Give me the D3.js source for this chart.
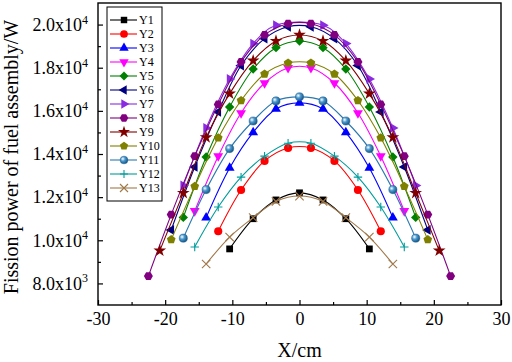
<!DOCTYPE html>
<html>
<head>
<meta charset="utf-8">
<script src="https://cdn.jsdelivr.net/npm/d3@7"></script>
<style>
  body { margin: 0; background: #fff; }
  svg { display: block; font-family: "Liberation Serif", "Times New Roman", serif; }
</style>
</head>
<body>
<div id="chart"></div>
<script>
// values (symmetric about x = 0)
var y1X = [-10.4, -6.9, -3.5, 0, 3.5, 6.9, 10.4];
var y1V = [9600, 11000, 11870, 12200, 11870, 11000, 9600];
var y2X = [-12.1, -8.7, -5.2, -1.7, 1.7, 5.2, 8.7, 12.1];
var y2V = [10420, 12330, 13680, 14280, 14280, 13680, 12330, 10420];
var y3X = [-13.9, -10.4, -6.9, -3.5, 0, 3.5, 6.9, 10.4, 13.9];
var y3V = [11050, 13350, 15000, 16090, 16370, 16090, 15000, 13350, 11050];
var y4X = [-15.6, -12.1, -8.7, -5.2, -1.7, 1.7, 5.2, 8.7, 12.1, 15.6];
var y4V = [11360, 13900, 15900, 17290, 17990, 17990, 17290, 15900, 13900, 11360];
var y5X = [-17.3, -13.9, -10.4, -6.9, -3.5, 0, 3.5, 6.9, 10.4, 13.9, 17.3];
var y5V = [11060, 13860, 16180, 17940, 18930, 19240, 18930, 17940, 16180, 13860, 11060];
var y6X = [-19.1, -15.6, -12.1, -8.7, -5.2, -1.7, 1.7, 5.2, 8.7, 12.1, 15.6, 19.1];
var y6V = [10480, 13400, 15950, 18100, 19350, 19900, 19900, 19350, 18100, 15950, 13400, 10480];
var y7X = [-17.3, -13.9, -10.4, -6.9, -3.5, 3.5, 6.9, 10.4, 13.9, 17.3];
var y7V = [12540, 15210, 17480, 19120, 19970, 19970, 19120, 17480, 15210, 12540];
var y8X = [-22.5, -19.1, -15.6, -12.1, -8.7, -5.2, -1.7, 1.7, 5.2, 8.7, 12.1, 15.6, 19.1, 22.5];
var y8V = [8340, 11190, 13900, 16300, 18270, 19520, 20040, 20040, 19520, 18270, 16300, 13900, 11190, 8340];
var y9X = [-20.8, -17.3, -13.9, -10.4, -6.9, -3.5, 0, 3.5, 6.9, 10.4, 13.9, 17.3, 20.8];
var y9V = [9520, 12190, 14770, 16800, 18330, 19240, 19520, 19240, 18330, 16800, 14770, 12190, 9520];
var y10X = [-19.1, -15.6, -12.1, -8.7, -5.2, -1.7, 1.7, 5.2, 8.7, 12.1, 15.6, 19.1];
var y10V = [10030, 12500, 14750, 16480, 17710, 18220, 18220, 17710, 16480, 14750, 12500, 10030];
var y11X = [-17.3, -13.9, -10.4, -6.9, -3.5, 0, 3.5, 6.9, 10.4, 13.9, 17.3];
var y11V = [10100, 12350, 14250, 15530, 16460, 16650, 16460, 15530, 14250, 12350, 10100];
var y12X = [-15.6, -12.1, -8.7, -5.2, -1.7, 1.7, 5.2, 8.7, 12.1, 15.6];
var y12V = [9690, 11540, 12930, 13900, 14500, 14500, 13900, 12930, 11540, 9690];
var y13X = [-13.9, -10.4, -6.9, -3.5, 0, 3.5, 6.9, 10.4, 13.9];
var y13V = [8900, 10150, 11050, 11800, 12050, 11800, 11050, 10150, 8900];

var names = ["Y1", "Y2", "Y3", "Y4", "Y5", "Y6", "Y7", "Y8", "Y9", "Y10", "Y11", "Y12", "Y13"];
var xList = [y1X, y2X, y3X, y4X, y5X, y6X, y7X, y8X, y9X, y10X, y11X, y12X, y13X];
var vList = [y1V, y2V, y3V, y4V, y5V, y6V, y7V, y8V, y9V, y10V, y11V, y12V, y13V];

var xTicks = [-30, -20, -10, 0, 10, 20, 30];
var xMinor = [-25, -15, -5, 5, 15, 25];
var yTicks = [8000, 10000, 12000, 14000, 16000, 18000, 20000];
var yMinor = [9000, 11000, 13000, 15000, 17000, 19000];
var yMant = ["8.0", "1.0", "1.2", "1.4", "1.6", "1.8", "2.0"];
var yExp = ["3", "4", "4", "4", "4", "4", "4"];

var colors = ["#000000", "#ff0000", "#0000ff", "#ff00ff", "#008000", "#000080",
              "#8a2be2", "#800080", "#800000", "#808000", "#2a78b0", "#009c9c", "#a0784a"];
var shapes = ["square", "circle", "tri-up", "tri-down", "diamond", "tri-left",
              "tri-right", "hexagon", "star", "pentagon", "sphere", "plus", "cross"];

var W = 512, H = 362;
var margin = {top: 3, right: 11, bottom: 57, left: 98};
var w = W - margin.left - margin.right;
var h = H - margin.top - margin.bottom;

var svg = d3.select("#chart").append("svg")
    .attr("width", W)
    .attr("height", H);

var defs = svg.append("defs");
var grad = defs.append("radialGradient")
    .attr("id", "sphere")
    .attr("cx", "35%").attr("cy", "35%").attr("r", "65%");
grad.append("stop").attr("offset", "0%").attr("stop-color", "#ffffff");
grad.append("stop").attr("offset", "45%").attr("stop-color", "#4a9ad0");
grad.append("stop").attr("offset", "100%").attr("stop-color", "#1a5a8a");

var g = svg.append("g")
    .attr("transform", "translate(" + margin.left + "," + margin.top + ")");

var x = d3.scaleLinear().domain([-30, 30]).range([0, w]);
var y = d3.scaleLinear().domain([7000, 21000]).range([h, 0]);

// polygon symbol helper
function polygon(n, rot) {
  return {
    draw: function(ctx, size) {
      var r = Math.sqrt(size / (n * 0.5 * Math.sin(2 * Math.PI / n)));
      for (var k = 0; k < n; k++) {
        var a = rot + k * 2 * Math.PI / n;
        var px = r * Math.sin(a), py = -r * Math.cos(a);
        if (k === 0) ctx.moveTo(px, py); else ctx.lineTo(px, py);
      }
      ctx.closePath();
    }
  };
}

function drawMarker(sel, shape, color, size) {
  var s = size || 1;
  if (shape === "plus" || shape === "cross") {
    var r = 4.2 * s;
    var p = shape === "plus"
      ? "M" + (-r) + ",0H" + r + "M0," + (-r) + "V" + r
      : "M" + (-r) + "," + (-r) + "L" + r + "," + r + "M" + (-r) + "," + r + "L" + r + "," + (-r);
    sel.append("path").attr("d", p).attr("stroke", color).attr("stroke-width", 1.1).attr("fill", "none");
    return;
  }
  var type, area = 48 * s * s, rotate = 0;
  if (shape === "square") { type = d3.symbolSquare; area = 46 * s * s; }
  else if (shape === "circle" || shape === "sphere") { type = d3.symbolCircle; area = 52 * s * s; }
  else if (shape === "tri-up") { type = polygon(3, 0); area = 42 * s * s; }
  else if (shape === "tri-down") { type = polygon(3, Math.PI); area = 42 * s * s; }
  else if (shape === "tri-left") { type = polygon(3, -Math.PI / 2); area = 42 * s * s; }
  else if (shape === "tri-right") { type = polygon(3, Math.PI / 2); area = 42 * s * s; }
  else if (shape === "diamond") { type = polygon(4, 0); area = 44 * s * s; }
  else if (shape === "hexagon") { type = polygon(6, Math.PI / 6); area = 52 * s * s; }
  else if (shape === "pentagon") { type = polygon(5, 0); area = 50 * s * s; }
  else if (shape === "star") { type = d3.symbolStar; area = 50 * s * s; }
  sel.append("path")
    .attr("d", d3.symbol().type(type).size(area)())
    .attr("fill", shape === "sphere" ? "url(#sphere)" : color)
    .attr("stroke", shape === "sphere" ? "#1a5a8a" : "none")
    .attr("stroke-width", 0.5);
}

// axes: ticks point inward
var xAxis = g.append("g")
    .attr("transform", "translate(0," + h + ")")
    .call(d3.axisBottom(x).tickValues(xTicks).tickSizeInner(-5).tickSizeOuter(0).tickPadding(7)
      .tickFormat(function(d) { return d; }));
g.append("g")
    .attr("transform", "translate(0," + h + ")")
    .call(d3.axisBottom(x).tickValues(xMinor).tickSize(-3).tickFormat(""));

var yAxis = g.append("g")
    .call(d3.axisLeft(y).tickValues(yTicks).tickSizeInner(-5).tickSizeOuter(0).tickPadding(10)
      .tickFormat(""));
g.append("g")
    .call(d3.axisLeft(y).tickValues(yMinor).tickSize(-3).tickFormat(""));

g.selectAll(".domain").remove();
g.selectAll(".tick line").attr("stroke", "#000").attr("stroke-width", 1.2);

xAxis.selectAll(".tick text")
    .style("font-family", "Liberation Serif, serif")
    .style("font-size", "18px")
    .attr("fill", "#000");

yAxis.selectAll(".tick text").each(function(d, i) {
  var t = d3.select(this)
      .style("font-family", "Liberation Serif, serif")
      .style("font-size", "18px")
      .attr("fill", "#000")
      .attr("x", -10);
  t.append("tspan").text(yMant[i] + "x10");
  t.append("tspan").text(yExp[i]).style("font-size", "12px").attr("dy", "-0.6em");
});

// frame
g.append("rect")
    .attr("x", 0).attr("y", 0)
    .attr("width", w).attr("height", h)
    .attr("fill", "none")
    .attr("stroke", "#000")
    .attr("stroke-width", 1.4);

// series
var line = d3.line()
    .x(function(d) { return x(d[0]); })
    .y(function(d) { return y(d[1]); })
    .curve(d3.curveCatmullRom.alpha(0.5));

names.forEach(function(name, i) {
  var pts = xList[i].map(function(xv, j) { return [xv, vList[i][j]]; });
  var sg = g.append("g").attr("class", "series");
  sg.append("path")
      .datum(pts)
      .attr("d", line)
      .attr("fill", "none")
      .attr("stroke", colors[i])
      .attr("stroke-width", 1.1);
  sg.selectAll("g.pt").data(pts).enter()
    .append("g")
      .attr("class", "pt")
      .attr("transform", function(d) { return "translate(" + x(d[0]) + "," + y(d[1]) + ")"; })
      .each(function() { drawMarker(d3.select(this), shapes[i], colors[i], 1); });
});

// legend
var lg = g.append("g").attr("transform", "translate(9,4)");
lg.append("rect")
    .attr("width", 55).attr("height", 194)
    .attr("fill", "#fff")
    .attr("stroke", "#000")
    .attr("stroke-width", 1);
var row = d3.scaleBand().domain(names).range([10, 192]);
names.forEach(function(name, i) {
  var ry = row(name) + row.bandwidth() / 2 - 4;
  var it = lg.append("g").attr("transform", "translate(0," + ry + ")");
  it.append("line")
      .attr("x1", 3).attr("x2", 30)
      .attr("stroke", colors[i]).attr("stroke-width", 1.1);
  var m = it.append("g").attr("transform", "translate(17,0)");
  drawMarker(m, shapes[i], colors[i], 0.95);
  it.append("text")
      .attr("x", 32).attr("y", 4)
      .style("font-size", "12px")
      .attr("fill", "#000")
      .text(name);
});

// axis titles
svg.append("text")
    .attr("x", margin.left + x(0))
    .attr("y", 357)
    .attr("text-anchor", "middle")
    .style("font-size", "20px")
    .text("X/cm");

svg.append("text")
    .attr("transform", "translate(18,157) rotate(-90)")
    .attr("text-anchor", "middle")
    .style("font-size", "20px")
    .text("Fission power of fuel assembly/W");
</script>
</body>
</html>
